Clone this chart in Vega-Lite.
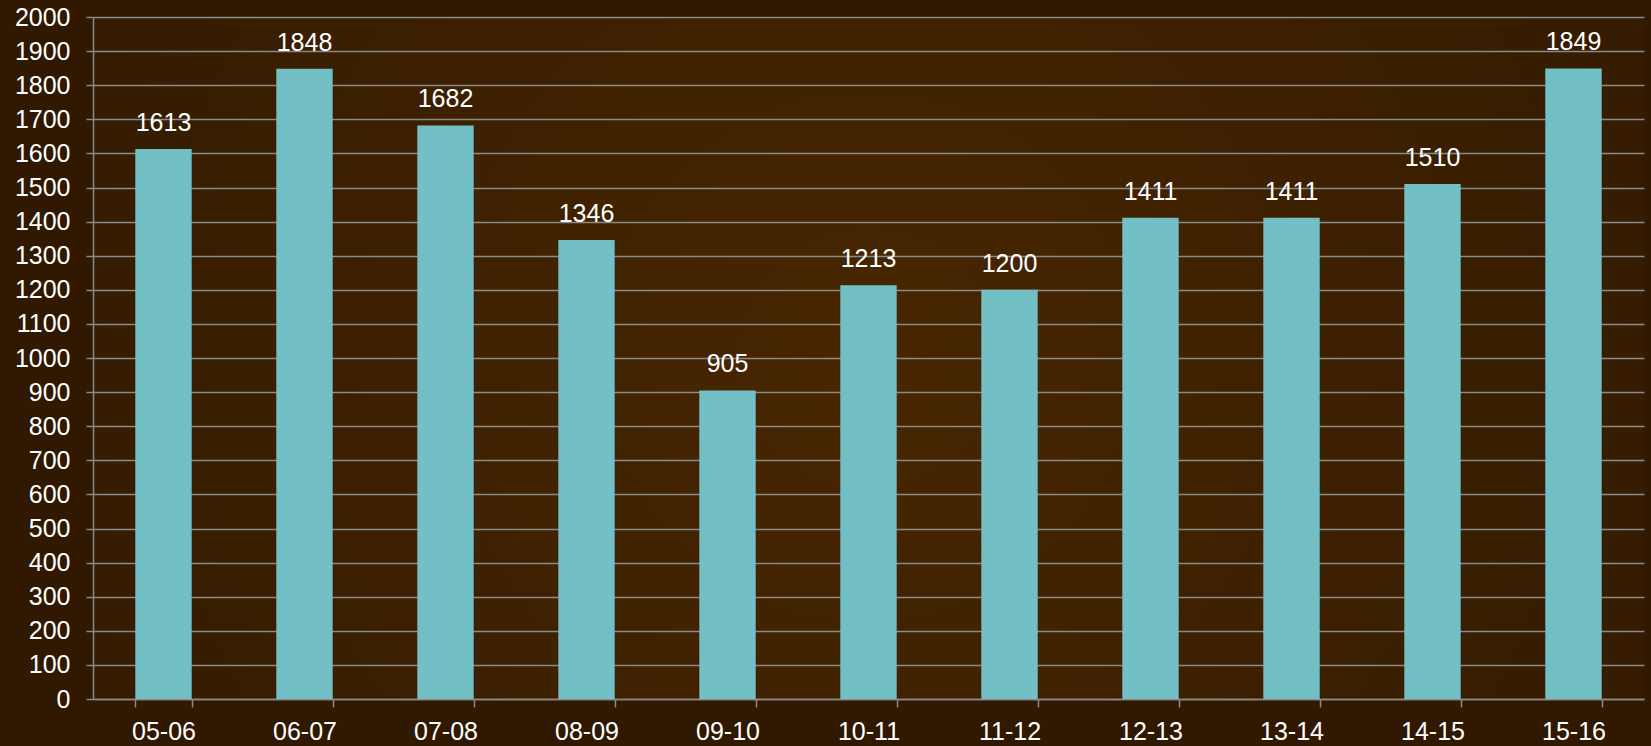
{
  "$schema": "https://vega.github.io/schema/vega-lite/v6.json",
  "width": 1551,
  "height": 682,
  "autosize": {"type": "none"},
  "padding": {"left": 93, "top": 17, "right": 7, "bottom": 47},
  "background": "#301900",
  "config": {
    "font": "Liberation Sans",
    "view": {
      "stroke": null,
      "fill": {
        "gradient": "radial",
        "x1": 0.5, "y1": 0.5, "r1": 0,
        "x2": 0.5, "y2": 0.5, "r2": 0.72,
        "stops": [
          {"offset": 0, "color": "#482601"},
          {"offset": 1, "color": "#2e1800"}
        ]
      }
    }
  },
  "data": {
    "values": [
      {"season": "05-06", "value": 1613},
      {"season": "06-07", "value": 1848},
      {"season": "07-08", "value": 1682},
      {"season": "08-09", "value": 1346},
      {"season": "09-10", "value": 905},
      {"season": "10-11", "value": 1213},
      {"season": "11-12", "value": 1200},
      {"season": "12-13", "value": 1411},
      {"season": "13-14", "value": 1411},
      {"season": "14-15", "value": 1510},
      {"season": "15-16", "value": 1849}
    ]
  },
  "encoding": {
    "x": {
      "field": "season",
      "type": "nominal",
      "sort": null,
      "scale": {"paddingInner": 0.6, "paddingOuter": 0.3},
      "axis": {
        "title": null,
        "labelAngle": 0,
        "labelFontSize": 25,
        "labelColor": "#ffffff",
        "labelPadding": 12,
        "tickBand": "extent",
        "tickSize": 8,
        "tickColor": "#8a8a8a",
        "tickWidth": 1.5,
        "domainColor": "#8a8a8a",
        "domainWidth": 1.5
      }
    },
    "y": {
      "field": "value",
      "type": "quantitative",
      "scale": {"domain": [0, 2000], "nice": false},
      "axis": {
        "title": null,
        "tickCount": 20,
        "format": "d",
        "labelFontSize": 25,
        "labelColor": "#ffffff",
        "labelPadding": 16,
        "tickSize": 7,
        "tickColor": "#8a8a8a",
        "tickWidth": 1.5,
        "domainColor": "#8a8a8a",
        "domainWidth": 1.5,
        "grid": true,
        "gridColor": "#8a8a8a",
        "gridWidth": 1.5
      }
    }
  },
  "layer": [
    {"mark": {"type": "bar", "color": "#72bfc5"}},
    {
      "mark": {"type": "text", "color": "#ffffff", "fontSize": 25, "baseline": "alphabetic", "dy": -18},
      "encoding": {"text": {"field": "value", "type": "quantitative", "format": "d"}}
    }
  ]
}
